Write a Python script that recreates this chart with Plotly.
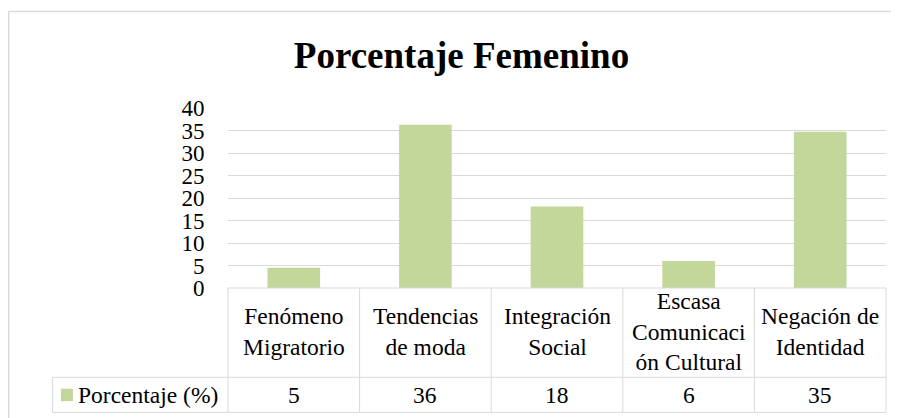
import plotly.graph_objects as go

# ---- data ----
categories = ["Fenómeno<br>Migratorio", "Tendencias<br>de moda", "Integración<br>Social",
              "Escasa<br>Comunicaci<br>ón Cultural", "Negación de<br>Identidad"]
values = [4.5, 36.3, 18.1, 6.0, 34.7]
table_labels = ["5", "36", "18", "6", "35"]
series_name = "Porcentaje (%)"
chart_title = "Porcentaje Femenino"
y_ticks = [0, 5, 10, 15, 20, 25, 30, 35, 40]

FONT = "Liberation Serif"
GRID = "#d9d9d9"
BAR = "#c4d79b"
FS = 23.5

OFF = 8  # page body margin offset
W, H = 899 - OFF, 418 - OFF
L = 228 - OFF
T = 108.3 - OFF
R = W - (885.7 - OFF)
B = H - (287.7 - OFF)
plot_w = W - L - R
plot_h = H - T - B

def px_x(px):
    return (px - OFF - L) / plot_w

def px_y(py):
    return (H - B - (py - OFF)) / plot_h

xmin, xmax = -0.5, len(categories) - 0.5

fig = go.Figure()
fig.add_trace(go.Bar(x=list(range(len(categories))), y=values, name=series_name,
                     marker=dict(color=BAR, line=dict(width=0)), showlegend=False))

shapes = []
line = dict(color=GRID, width=1)
row1_bot = px_y(376.7)
row2_bot = px_y(411.7)
left_cell = px_x(52.7)
for i in range(len(categories) + 1):
    xb = (i - 0.5 - xmin) / (xmax - xmin)
    shapes.append(dict(type="line", xref="paper", yref="paper", x0=xb, x1=xb,
                       y0=0, y1=row2_bot, line=line))
shapes.append(dict(type="line", xref="paper", yref="paper", x0=left_cell, x1=left_cell,
                   y0=row1_bot, y1=row2_bot, line=line))
shapes.append(dict(type="line", xref="paper", yref="paper", x0=0, x1=1, y0=0, y1=0, line=line))
for yy in (row1_bot, row2_bot):
    shapes.append(dict(type="line", xref="paper", yref="paper", x0=left_cell, x1=1,
                       y0=yy, y1=yy, line=line))
shapes.append(dict(type="rect", xref="paper", yref="paper", x0=px_x(61), x1=px_x(73),
                   y0=px_y(400.5), y1=px_y(388), fillcolor=BAR, line=dict(width=0)))
shapes.append(dict(type="line", xref="paper", yref="paper", x0=px_x(8.5), x1=px_x(910),
                   y0=px_y(12), y1=px_y(12), line=dict(color=GRID, width=1.5)))
shapes.append(dict(type="line", xref="paper", yref="paper", x0=px_x(8.8), x1=px_x(8.8),
                   y0=px_y(12), y1=px_y(430), line=dict(color=GRID, width=1.5)))

annotations = []
row1_mid = px_y(331)
row2_mid = px_y(394.5)
for i, (cat, lab) in enumerate(zip(categories, table_labels)):
    annotations.append(dict(x=i, xref="x", y=row1_mid, yref="paper", text=cat,
                            showarrow=False, xanchor="center", yanchor="middle",
                            font=dict(family=FONT, size=FS, color="black")))
    annotations.append(dict(x=i, xref="x", y=row2_mid, yref="paper", text=lab,
                            showarrow=False, xanchor="center", yanchor="middle",
                            font=dict(family=FONT, size=FS, color="black")))
annotations.append(dict(x=px_x(76), xref="paper", y=row2_mid, yref="paper", text=series_name,
                        showarrow=False, xanchor="left", yanchor="middle",
                        font=dict(family=FONT, size=FS, color="black")))

fig.update_layout(
    width=W, height=H,
    margin=dict(l=L, r=R, t=T, b=B, autoexpand=False),
    paper_bgcolor="white", plot_bgcolor="white",
    title=dict(text="<b>" + chart_title + "</b>", x=(461.5 - OFF) / W, xanchor="center",
               y=1 - (55 - OFF) / H, yanchor="middle", yref="container",
               font=dict(family=FONT, size=37, color="black")),
    bargap=0.6,
    xaxis=dict(range=[xmin, xmax], showticklabels=False, showgrid=False, zeroline=False,
               showline=False, ticks=""),
    yaxis=dict(range=[0, 40], tickvals=y_ticks, ticktext=[str(v) for v in y_ticks],
               showgrid=True, gridcolor=GRID, gridwidth=1, zeroline=False, showline=False,
               ticks="outside", ticklen=18, tickcolor="rgba(0,0,0,0)",
               tickfont=dict(family=FONT, size=23, color="black")),
    shapes=shapes, annotations=annotations,
)

fig.write_html("out.html")
